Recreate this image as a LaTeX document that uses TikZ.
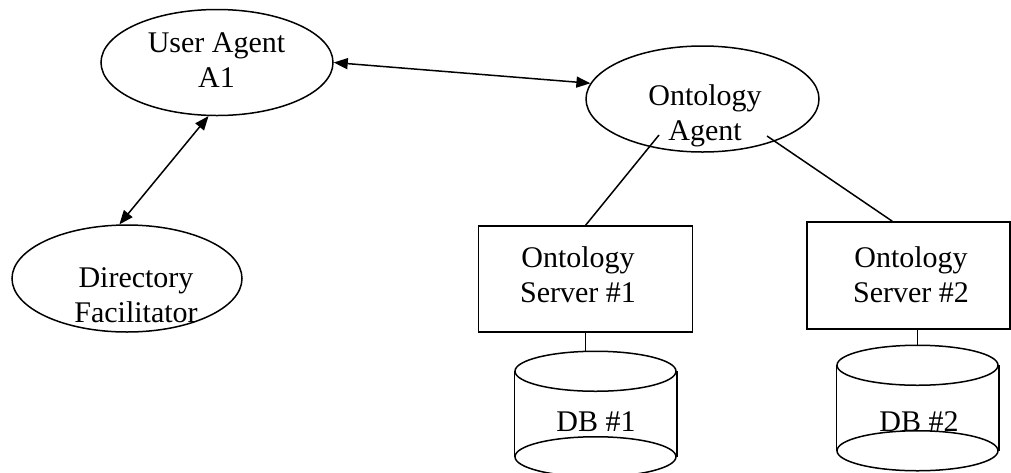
\documentclass[tikz,border=0pt]{standalone}
\usepackage{fontspec}
\setmainfont{Liberation Serif}
\usetikzlibrary{
    arrows.meta,
    shapes.geometric,
    calc
}

\begin{document}
\begin{tikzpicture}[
    x=1pt, y=1pt,
    font=\fontsize{30}{35}\selectfont,
    line width=1.5pt,
    agent/.style={
        draw,
        ellipse,
        minimum width=232pt,
        minimum height=106pt,
        inner sep=0pt
    },
    server/.style={draw, rectangle, inner sep=0pt},
    dbbox/.style={minimum width=161pt, minimum height=124pt, inner sep=0pt},
    txt/.style={align=center, inner sep=0pt},
    biarrow/.style={{Triangle[length=14pt,width=11pt]}-{Triangle[length=14pt,width=11pt]}}
]

\useasboundingbox (0,0) rectangle (1011,-472);

\def\dbrx{80.5pt}
\def\dbry{20pt}

% ============================================================
% AGENTS
% ============================================================

\node[agent] (ua) at (217,-62.5) {};
\node[txt] (uatext) at (216.5,-60.5) {User Agent\\A1};

\node[agent, minimum width=233pt] (oa) at (702.5,-99) {};
\node[txt] (oatext) at (705,-115.5) {Ontology\\Agent};

\node[agent, minimum width=230pt, minimum height=107pt] (df) at (127,-278.5) {};
\node[txt] (dftext) at (136,-295.3) {Directory\\Facilitator};

\draw[biarrow] (ua.east) -- (oa.172);
\draw[biarrow] (ua.261) -- (df.98);

% ============================================================
% SERVERS AND DATABASES
% ============================================================

\node[server, minimum width=214pt, minimum height=106pt] (s1) at (585.6,-279) {};
\node[txt] (s1text) at (578,-275.2) {Ontology\\Server \#1};

\node[server, minimum width=203pt, minimum height=107pt] (s2) at (908.3,-275.5) {};
\node[txt] (s2text) at (911,-275) {Ontology\\Server \#2};

\newcommand{\drawdb}[1]{%
    \draw ([yshift=-\dbry]#1.north west) -- ([yshift=\dbry]#1.south west);
    \draw ([yshift=-\dbry]#1.north east) -- ([yshift=\dbry]#1.south east);
    \draw ([yshift=-\dbry]#1.north) ellipse [x radius=\dbrx, y radius=\dbry];
    \draw ([yshift=\dbry]#1.south) ellipse [x radius=\dbrx, y radius=\dbry];
}

\node[dbbox] (db1) at (595.5,-414) {};
\drawdb{db1}
\node[txt] (db1text) at (596,-421.5) {DB \#1};

\node[dbbox] (db2) at (917.5,-408) {};
\drawdb{db2}
\node[txt] (db2text) at (919,-421.5) {DB \#2};

\draw ([shift={(-43.5,-36)}]oa.center) -- (s1.north);
\draw ([shift={(64.5,-37)}]oa.center) -- ([xshift=-16pt]s2.north);
\draw (s1.south) -- (s1.south |- db1.north);
\draw (db2.north |- s2.south) -- (db2.north);

\end{tikzpicture}
\end{document}
